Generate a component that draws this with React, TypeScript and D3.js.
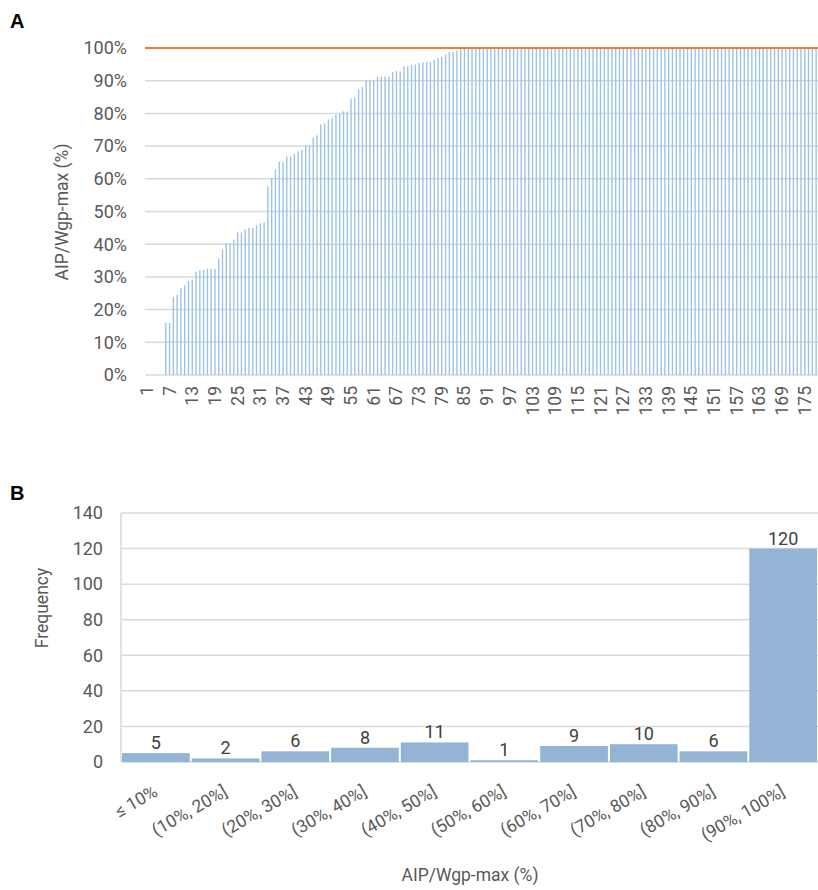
import * as d3 from "d3";

// panel A: AIP/Wgp-max (%) per case, sorted ascending
const ratios = [
  0, 0, 0, 0, 0, 15.9, 15.9, 23.9, 24.5, 26.6,
  27.4, 28.8, 29.2, 31.6, 32.1, 32.1, 32.5, 32.5, 32.5, 35.6,
  38.4, 40.3, 40.3, 41.4, 43.6, 43.6, 44.6, 45.0, 45.0, 45.8,
  46.4, 46.7, 57.7, 60.2, 62.9, 65.2, 65.2, 66.8, 66.8, 67.6,
  68.4, 68.9, 70.2, 70.2, 72.6, 73.3, 76.6, 76.9, 78.2, 78.6,
  79.6, 79.9, 80.6, 80.6, 84.5, 84.9, 87.3, 88.1, 90.1, 90.1,
  90.1, 91.3, 91.3, 91.3, 91.3, 92.6, 92.9, 92.9, 94.4, 94.4,
  94.9, 94.9, 95.4, 95.7, 95.7, 95.7, 96.4, 96.9, 97.3, 98.0,
  98.8, 98.8, 99.3, 100, 100, 100, 100, 100, 100, 100,
  100, 100, 100, 100, 100, 100, 100, 100, 100, 100,
  100, 100, 100, 100, 100, 100, 100, 100, 100, 100,
  100, 100, 100, 100, 100, 100, 100, 100, 100, 100,
  100, 100, 100, 100, 100, 100, 100, 100, 100, 100,
  100, 100, 100, 100, 100, 100, 100, 100, 100, 100,
  100, 100, 100, 100, 100, 100, 100, 100, 100, 100,
  100, 100, 100, 100, 100, 100, 100, 100, 100, 100,
  100, 100, 100, 100, 100, 100, 100, 100, 100, 100,
  100, 100, 100, 100, 100, 100, 100, 100,
];
const limitValue = 100;
const pctTicks = [0, 10, 20, 30, 40, 50, 60, 70, 80, 90, 100];

// panel B: histogram
const bins = [
  "≤ 10%", "(10%, 20%]", "(20%, 30%]", "(30%, 40%]", "(40%, 50%]",
  "(50%, 60%]", "(60%, 70%]", "(70%, 80%]", "(80%, 90%]", "(90%, 100%]",
];
const counts = [5, 2, 6, 8, 11, 1, 9, 10, 6, 120];
const freqTicks = [0, 20, 40, 60, 80, 100, 120, 140];

const font = "Roboto, 'Open Sans', sans-serif";
const grey = "#595959";
const grid = "#d9d9d9";

function PanelA() {
  const cases = ratios.map((_, i) => i + 1);
  const x = d3.scaleBand<number>().domain(cases).range([145, 818]);
  const y = d3.scaleLinear().domain([0, 100]).range([375, 48]);
  const bw = x.bandwidth();
  const barW = 1.4;
  const line = d3
    .line<number>()
    .x((d) => d)
    .y(() => y(limitValue));

  return (
    <g>
      <text x={10} y={28} fontFamily="'Liberation Sans', Arial, sans-serif" fontWeight="bold" fontSize={20}>
        A
      </text>
      {pctTicks.map((t) => (
        <g key={t}>
          {t !== 100 && (
            <line x1={145} x2={818} y1={y(t)} y2={y(t)} stroke={grid} strokeWidth={1.5} />
          )}
          <text x={127} y={y(t)} dy="0.35em" textAnchor="end" fontSize={18} fill={grey}>
            {t}%
          </text>
        </g>
      ))}
      {ratios.map((v, i) => (
        <rect
          key={i}
          x={(x(i + 1) as number) + bw / 2 - barW / 2}
          y={y(v)}
          width={barW}
          height={y(0) - y(v)}
          fill="#9dc3e6"
        />
      ))}
      <path
        d={line([x(1) as number, (x(ratios.length) as number) + bw]) || ""}
        stroke="#ed7d31"
        strokeWidth={2.2}
        fill="none"
      />
      {cases
        .filter((c) => c % 6 === 1)
        .map((c) => {
          const cx = (x(c) as number) + bw / 2;
          return (
            <text
              key={c}
              transform={`translate(${cx + 6},386) rotate(-90)`}
              textAnchor="end"
              fontSize={17.5}
              fill={grey}
            >
              {c}
            </text>
          );
        })}
      <text
        transform="translate(68,212) rotate(-90)"
        textAnchor="middle"
        fontSize={17.5}
        fill={grey}
      >
        AIP/Wgp-max (%)
      </text>
    </g>
  );
}

function PanelB() {
  const x = d3.scaleBand<string>().domain(bins).range([121, 818]);
  const y = d3.scaleLinear().domain([0, 140]).range([762, 513]);
  const bw = x.bandwidth();

  return (
    <g>
      <text x={10} y={500} fontFamily="'Liberation Sans', Arial, sans-serif" fontWeight="bold" fontSize={20}>
        B
      </text>
      {freqTicks.map((t) => (
        <g key={t}>
          <line x1={121} x2={818} y1={y(t)} y2={y(t)} stroke={grid} strokeWidth={1.5} />
          <text x={103} y={y(t)} dy="0.35em" textAnchor="end" fontSize={18} fill={grey}>
            {t}
          </text>
        </g>
      ))}
      <line x1={121} x2={121} y1={y(140)} y2={y(0)} stroke={grid} strokeWidth={1.5} />
      {counts.map((c, i) => {
        const bx = x(bins[i]) as number;
        return (
          <g key={bins[i]}>
            <rect x={bx + 1} y={y(c)} width={bw - 2} height={y(0) - y(c)} fill="#93b4d4" />
            <text x={bx + bw / 2} y={y(c) - 4} textAnchor="middle" fontSize={18} fill="#404040">
              {c}
            </text>
            <text
              transform={`translate(${bx + bw / 2 + 3},795) rotate(-30)`}
              textAnchor="end"
              fontSize={17.5}
              fill={grey}
            >
              {bins[i]}
            </text>
          </g>
        );
      })}
      <text
        transform="translate(48,608) rotate(-90)"
        textAnchor="middle"
        fontSize={17.5}
        fill={grey}
      >
        Frequency
      </text>
      <text x={470} y={881} textAnchor="middle" fontSize={17.5} fill={grey}>
        AIP/Wgp-max (%)
      </text>
    </g>
  );
}

export default function App() {
  return (
    <svg
      width={818}
      height={890}
      style={{ position: "absolute", left: 0, top: 0, background: "#fff" }}
      fontFamily={font}
    >
      <PanelA />
      <PanelB />
    </svg>
  );
}
